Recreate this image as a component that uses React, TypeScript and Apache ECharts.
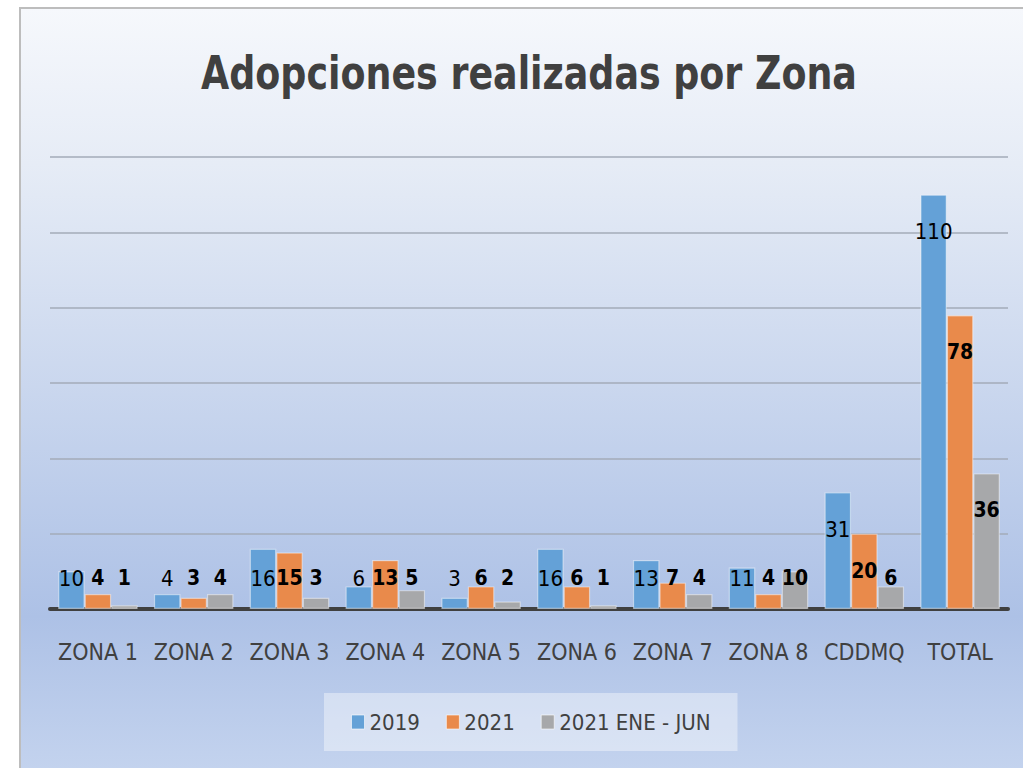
import React, { useEffect, useRef } from "react";
import * as echarts from "echarts";

const categories = ["ZONA 1", "ZONA 2", "ZONA 3", "ZONA 4", "ZONA 5", "ZONA 6", "ZONA 7", "ZONA 8", "CDDMQ", "TOTAL"];
const seriesNames = ["2019", "2021", "2021 ENE - JUN"];
const values2019 = [10, 4, 16, 6, 3, 16, 13, 11, 31, 110];
const values2021 = [4, 3, 15, 13, 6, 6, 7, 4, 20, 78];
const valuesEneJun = [1, 4, 3, 5, 2, 1, 4, 10, 6, 36];
const colors = ["#64A1D7", "#E98A4B", "#A7A8AA"];
const yMax = 120;
const yInterval = 20;

const FONT = "'Liberation Sans Narrow', 'Arial Narrow', 'DejaVu Sans Condensed', sans-serif";
const GRID_TOP = 157;
const GRID_BOTTOM_Y = 609;
const SCALE = (GRID_BOTTOM_Y - GRID_TOP) / yMax;

function labelled(vals: number[]) {
  return vals.map((v) => ({
    value: v,
    label: { offset: [0, Math.min(37, v * SCALE - 31)] },
  }));
}

export default function App() {
  const ref = useRef<HTMLDivElement>(null);
  useEffect(() => {
    if (!ref.current) return;
    const chart = echarts.init(ref.current, null, { renderer: "svg" });
    const mkSeries = (name: string, vals: number[], color: string, bold: boolean) => ({
      name,
      type: "bar",
      data: labelled(vals),
      barGap: "0%",
      barCategoryGap: "17%",
      itemStyle: { color, borderColor: "rgba(255,255,255,0.45)", borderWidth: 1.2 },
      label: {
        show: true,
        position: "insideTop",
        distance: 0,
        verticalAlign: "middle",
        fontFamily: FONT,
        fontSize: bold ? 21 : 22,
        fontWeight: bold ? "bold" : "normal",
        color: "#000000",
      },
    });
    chart.setOption({
      animation: false,
      backgroundColor: "#ffffff",
      graphic: [
        {
          type: "rect",
          z: -10,
          silent: true,
          shape: { x: 20, y: 8, width: 1020, height: 780 },
          style: {
            fill: new echarts.graphic.LinearGradient(0, 0, 0, 1, [
              { offset: 0, color: "#F6F8FC" },
              { offset: 0.2, color: "#E6ECF6" },
              { offset: 0.78, color: "#ADC1E6" },
              { offset: 1, color: "#C6D5EF" },
            ]),
            stroke: "#BDBDBD",
            lineWidth: 2,
          },
        },
        {
          type: "text",
          x: 529,
          y: 73,
          scaleX: 0.88,
          style: {
            text: "Adopciones realizadas por Zona",
            fontFamily: FONT,
            fontWeight: "bold",
            fontSize: 46,
            fill: "#404040",
            align: "center",
            verticalAlign: "middle",
          },
        },
      ],
      legend: {
        data: seriesNames,
        left: 324,
        top: 693,
        padding: [18, 27, 18, 27],
        backgroundColor: "rgba(255,255,255,0.4)",
        itemWidth: 13,
        itemHeight: 14,
        itemGap: 26,
        icon: "rect",
        itemStyle: { borderColor: "rgba(255,255,255,0.6)", borderWidth: 1 },
        textStyle: { fontFamily: FONT, fontSize: 22, color: "#404040" },
      },
      grid: { left: 50, right: 15, top: GRID_TOP, bottom: 768 - GRID_BOTTOM_Y, containLabel: false },
      xAxis: {
        type: "category",
        data: categories,
        axisLine: { lineStyle: { color: "#404040", width: 4 } },
        axisTick: { show: false },
        axisLabel: { fontFamily: FONT, fontSize: 23, color: "#404040", margin: 31, interval: 0 },
      },
      yAxis: {
        type: "value",
        min: 0,
        max: yMax,
        interval: yInterval,
        axisLabel: { show: false },
        axisLine: { show: false },
        axisTick: { show: false },
        splitLine: { lineStyle: { color: "#A3ABB8", width: 1.5 } },
      },
      series: [
        mkSeries(seriesNames[0], values2019, colors[0], false),
        mkSeries(seriesNames[1], values2021, colors[1], true),
        mkSeries(seriesNames[2], valuesEneJun, colors[2], true),
      ],
    });
    return () => chart.dispose();
  }, []);
  return (
    <div
      ref={ref}
      style={{ position: "absolute", left: 0, top: 0, width: 1023, height: 768 }}
    />
  );
}
